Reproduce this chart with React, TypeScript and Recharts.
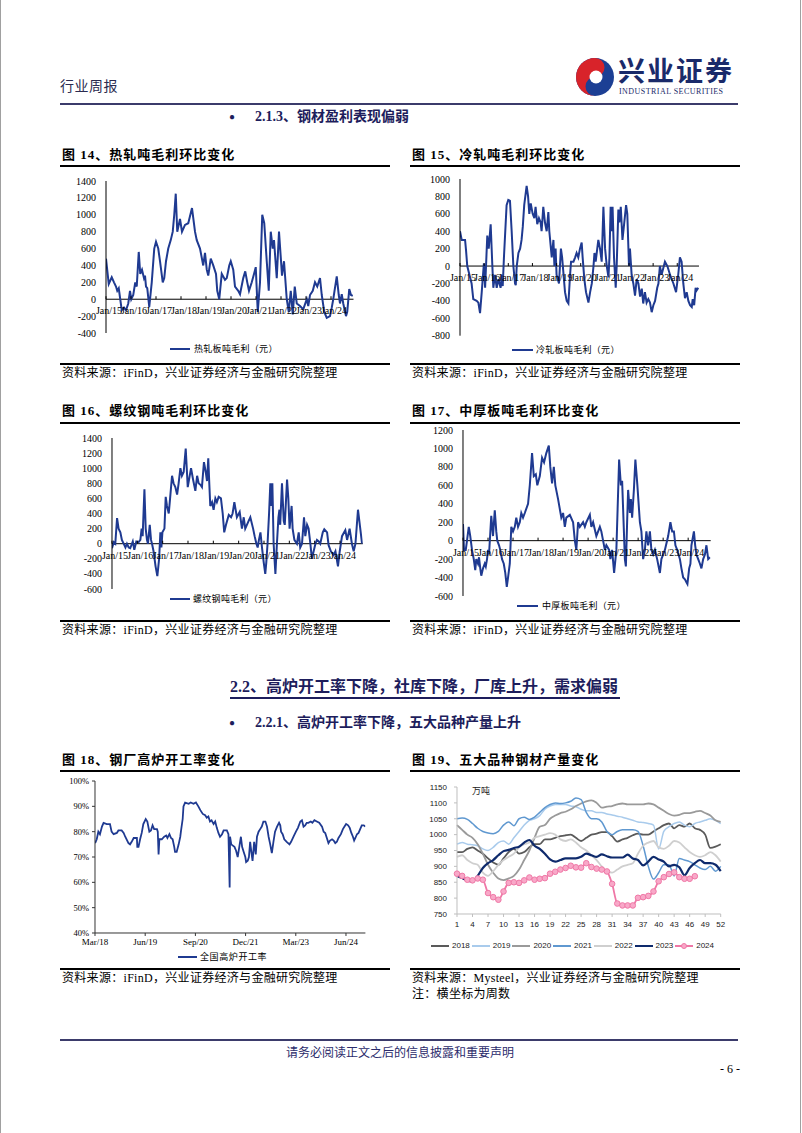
import React from "react";
import { LineChart, Line, XAxis, YAxis, ReferenceLine, ReferenceDot } from "recharts";

const NAVY = "#1f3a91";
const INK = "#1d1d5c";
const SERIF = '"Liberation Serif", "Times New Roman", "Noto Sans CJK SC", serif';
const SANS = '"Liberation Sans", Arial, "Noto Sans CJK SC", sans-serif';

// x axis of the margin charts: one tick per January
const janYears = [2015, 2016, 2017, 2018, 2019, 2020, 2021, 2022, 2023, 2024];
const janLabels = ["Jan/15", "Jan/16", "Jan/17", "Jan/18", "Jan/19", "Jan/20", "Jan/21", "Jan/22", "Jan/23", "Jan/24"];

// 图14 热轧板吨毛利（元）  [year, value]
const hotRolled: [number, number][] = [
  [2015.0, 480], [2015.11, 180], [2015.23, 260], [2015.32, 200], [2015.4, 150], [2015.45, 100], [2015.51, 130],
  [2015.63, -130], [2015.72, -100], [2015.8, -130], [2015.89, -50], [2015.96, 100], [2016.01, 0], [2016.09, 50],
  [2016.17, 200], [2016.23, 150], [2016.31, 560], [2016.37, 300], [2016.44, 350], [2016.52, 250], [2016.56, 280],
  [2016.6, 150], [2016.65, 130], [2016.73, -90], [2016.83, 200], [2016.93, 600], [2017.0, 680], [2017.09, 600],
  [2017.16, 450], [2017.27, 200], [2017.33, 250], [2017.4, 450], [2017.49, 600], [2017.59, 700], [2017.67, 800],
  [2017.73, 1000], [2017.79, 1250], [2017.85, 800], [2017.96, 950], [2018.04, 800], [2018.16, 880], [2018.29, 900],
  [2018.44, 1080], [2018.56, 800], [2018.63, 700], [2018.76, 600], [2018.89, 400], [2018.96, 550], [2019.03, 350],
  [2019.09, 280], [2019.19, 480], [2019.29, 400], [2019.4, 300], [2019.45, 100], [2019.53, 0], [2019.63, 300],
  [2019.76, 230], [2019.83, 250], [2019.93, 400], [2019.99, 450], [2020.09, 350], [2020.16, 150], [2020.29, 100],
  [2020.36, 60], [2020.49, 250], [2020.57, 330], [2020.65, 200], [2020.72, 100], [2020.83, 200], [2020.92, 300],
  [2020.99, 380], [2021.07, -150], [2021.16, 200], [2021.25, 1000], [2021.33, 900], [2021.43, 450], [2021.51, 100],
  [2021.59, 800], [2021.67, 600], [2021.72, 700], [2021.83, 250], [2021.92, 800], [2021.99, 500], [2022.04, 280],
  [2022.12, 450], [2022.23, 0], [2022.31, -150], [2022.39, 100], [2022.47, -180], [2022.55, 150], [2022.63, -50],
  [2022.76, -80], [2022.89, -120], [2023.03, 0], [2023.09, -80], [2023.16, 50], [2023.27, 100], [2023.36, 200],
  [2023.45, 150], [2023.56, 250], [2023.63, 50], [2023.73, -150], [2023.83, -220], [2023.96, -200], [2024.03, -100],
  [2024.09, 0], [2024.23, 270], [2024.31, 50], [2024.36, -50], [2024.43, 60], [2024.49, -50], [2024.6, -200],
  [2024.65, -150], [2024.73, 120], [2024.8, 50], [2024.87, 40],
];

// 图15 冷轧板吨毛利（元）
const coldRolled: [number, number][] = [
  [2015.0, 400], [2015.07, 300], [2015.21, 300], [2015.25, 180], [2015.3, 0], [2015.39, -100], [2015.48, -200],
  [2015.55, -380], [2015.69, -400], [2015.76, -420], [2015.83, -540], [2015.9, -300], [2015.94, -150], [2015.99, 30],
  [2016.04, -250], [2016.13, 350], [2016.19, 200], [2016.27, 480], [2016.34, 0], [2016.38, -250], [2016.45, -100],
  [2016.52, -250], [2016.59, -150], [2016.68, -250], [2016.74, -100], [2016.77, -230], [2016.82, 100], [2016.93, 700],
  [2017.0, 760], [2017.07, 750], [2017.14, 400], [2017.21, 0], [2017.28, -200], [2017.31, -220], [2017.35, 0],
  [2017.42, 150], [2017.49, 200], [2017.55, 300], [2017.6, 450], [2017.66, 700], [2017.76, 920], [2017.82, 800],
  [2017.87, 600], [2017.93, 720], [2018.01, 600], [2018.08, 550], [2018.13, 680], [2018.2, 480], [2018.27, 550],
  [2018.34, 500], [2018.38, 400], [2018.45, 680], [2018.52, 500], [2018.59, 400], [2018.66, 620], [2018.7, 400],
  [2018.8, 100], [2018.87, 300], [2018.91, 0], [2018.96, 200], [2019.0, -100], [2019.1, -200], [2019.18, 200],
  [2019.23, 100], [2019.35, -300], [2019.42, -400], [2019.49, -430], [2019.56, -100], [2019.6, 50], [2019.7, 50],
  [2019.77, 100], [2019.83, 150], [2019.9, 100], [2019.97, 200], [2020.04, 270], [2020.08, 100], [2020.15, -150],
  [2020.22, -300], [2020.32, -420], [2020.39, -300], [2020.46, -200], [2020.53, 0], [2020.57, 150], [2020.62, 50],
  [2020.73, 300], [2020.8, 200], [2020.87, 50], [2020.94, 680], [2021.01, 200], [2021.08, 0], [2021.15, -130],
  [2021.19, 100], [2021.24, 680], [2021.28, 400], [2021.32, 680], [2021.38, 100], [2021.45, -250], [2021.49, 0],
  [2021.56, 650], [2021.6, 500], [2021.66, 680], [2021.73, 300], [2021.88, 700], [2021.93, 600], [2022.0, 0],
  [2022.04, 200], [2022.11, -100], [2022.18, -200], [2022.25, -340], [2022.32, -150], [2022.39, -200], [2022.46, -350],
  [2022.53, -260], [2022.59, -430], [2022.66, -300], [2022.73, -420], [2022.8, -380], [2022.87, -420], [2022.94, -530],
  [2023.01, -450], [2023.08, -400], [2023.17, -250], [2023.22, -200], [2023.28, 0], [2023.35, -100], [2023.49, 50],
  [2023.59, 0], [2023.7, -100], [2023.84, -200], [2023.95, -300], [2024.04, -100], [2024.11, 100], [2024.18, 50],
  [2024.25, -200], [2024.32, -370], [2024.39, -300], [2024.46, -400], [2024.53, -450], [2024.6, -470], [2024.64, -380],
  [2024.7, -450], [2024.76, -250], [2024.8, -280], [2024.87, -250],
];

// 图16 螺纹钢吨毛利（元）
const rebar: [number, number][] = [
  [2015.0, -60], [2015.07, 20], [2015.13, 0], [2015.2, 340], [2015.26, 200], [2015.33, 150], [2015.39, 50],
  [2015.46, 0], [2015.53, -50], [2015.59, 0], [2015.66, -50], [2015.72, -60], [2015.82, 30], [2015.88, -80],
  [2015.96, 30], [2016.05, 20], [2016.12, 50], [2016.17, 200], [2016.21, 100], [2016.28, 720], [2016.33, 200],
  [2016.38, 50], [2016.42, 0], [2016.49, 250], [2016.54, 50], [2016.58, 0], [2016.64, -100], [2016.72, -300],
  [2016.79, -430], [2016.86, -200], [2016.91, 150], [2016.95, -50], [2016.99, 150], [2017.07, 200], [2017.12, 620],
  [2017.17, 500], [2017.24, 400], [2017.28, 550], [2017.37, 900], [2017.43, 800], [2017.5, 750], [2017.57, 650],
  [2017.63, 800], [2017.7, 1000], [2017.76, 900], [2017.83, 950], [2017.91, 1260], [2017.99, 750], [2018.12, 1000],
  [2018.2, 850], [2018.29, 700], [2018.36, 900], [2018.42, 800], [2018.49, 780], [2018.55, 750], [2018.63, 1080],
  [2018.7, 950], [2018.75, 830], [2018.8, 1130], [2018.84, 800], [2018.88, 500], [2018.95, 550], [2019.01, 450],
  [2019.08, 600], [2019.14, 550], [2019.21, 620], [2019.3, 600], [2019.37, 400], [2019.43, 150], [2019.5, 250],
  [2019.61, 380], [2019.7, 350], [2019.76, 400], [2019.83, 550], [2019.93, 350], [2020.04, 420], [2020.13, 200],
  [2020.2, 350], [2020.26, 200], [2020.39, 300], [2020.46, 350], [2020.57, 200], [2020.63, 100], [2020.7, 0],
  [2020.75, -50], [2020.8, 50], [2020.86, 150], [2020.92, -50], [2020.99, -250], [2021.05, -400], [2021.09, -250],
  [2021.14, 0], [2021.2, 400], [2021.25, 800], [2021.29, 500], [2021.33, 800], [2021.38, 0], [2021.45, -400],
  [2021.51, 0], [2021.57, 350], [2021.61, 450], [2021.64, 250], [2021.71, 800], [2021.78, 300], [2021.82, 250],
  [2021.91, 850], [2021.96, 600], [2022.01, 200], [2022.09, 500], [2022.13, 200], [2022.2, 50], [2022.3, 0],
  [2022.37, 150], [2022.43, -50], [2022.5, 0], [2022.58, 350], [2022.63, 100], [2022.7, 250], [2022.76, 200],
  [2022.83, 0], [2022.89, -200], [2022.96, -100], [2023.03, 0], [2023.09, 50], [2023.16, 30], [2023.22, 0],
  [2023.32, 150], [2023.38, 190], [2023.49, 150], [2023.55, -20], [2023.64, -100], [2023.75, -150], [2023.82, -100],
  [2023.92, -300], [2023.99, -100], [2024.08, 100], [2024.21, 180], [2024.28, 50], [2024.38, 200], [2024.47, 0],
  [2024.54, -100], [2024.61, 0], [2024.71, 450], [2024.8, 200], [2024.87, 0],
];

// 图17 中厚板吨毛利（元）
const plate: [number, number][] = [
  [2015.0, 180], [2015.04, -100], [2015.11, -100], [2015.16, 0], [2015.23, 150], [2015.29, 50], [2015.36, -100],
  [2015.43, -200], [2015.49, -320], [2015.53, -200], [2015.6, -250], [2015.64, -180], [2015.69, -300], [2015.73, -380],
  [2015.8, -300], [2015.87, -250], [2015.91, -280], [2015.96, -200], [2016.0, -100], [2016.04, -150], [2016.13, 270],
  [2016.2, 50], [2016.27, 330], [2016.33, 100], [2016.37, 0], [2016.44, -50], [2016.49, -100], [2016.56, -200],
  [2016.63, -250], [2016.69, -350], [2016.75, -500], [2016.8, -400], [2016.87, -250], [2016.93, 150], [2017.0, 100],
  [2017.07, 150], [2017.13, 250], [2017.2, 150], [2017.27, 200], [2017.33, 300], [2017.4, 250], [2017.47, 300],
  [2017.6, 400], [2017.67, 600], [2017.76, 950], [2017.83, 700], [2017.91, 720], [2017.97, 600], [2018.07, 700],
  [2018.16, 900], [2018.24, 850], [2018.33, 950], [2018.43, 1030], [2018.49, 800], [2018.56, 620], [2018.63, 800],
  [2018.69, 600], [2018.8, 450], [2018.93, 250], [2019.0, 300], [2019.07, 150], [2019.13, 250], [2019.27, 280],
  [2019.4, 200], [2019.47, 0], [2019.53, -100], [2019.6, 200], [2019.67, 150], [2019.8, 200], [2019.87, 150],
  [2019.93, 200], [2020.07, 280], [2020.13, 150], [2020.2, 200], [2020.33, 50], [2020.47, 150], [2020.53, 100],
  [2020.6, 0], [2020.67, -100], [2020.73, -50], [2020.84, -100], [2020.89, -200], [2020.96, -100], [2021.04, -350],
  [2021.13, -100], [2021.24, 880], [2021.31, 600], [2021.36, 650], [2021.47, -200], [2021.51, -280], [2021.56, 200],
  [2021.6, 550], [2021.67, 300], [2021.71, 450], [2021.76, 250], [2021.83, 550], [2021.89, 880], [2021.97, 600],
  [2022.07, 200], [2022.13, 100], [2022.2, -200], [2022.27, -100], [2022.33, 100], [2022.4, -50], [2022.47, 100],
  [2022.53, -100], [2022.6, -150], [2022.67, -100], [2022.76, -200], [2022.87, -350], [2022.93, -200], [2023.07, -100],
  [2023.2, 50], [2023.29, 200], [2023.36, 100], [2023.43, 100], [2023.49, -50], [2023.56, -100], [2023.67, -200],
  [2023.73, -300], [2023.8, -400], [2023.87, -420], [2023.93, -450], [2023.97, -470], [2024.04, -300], [2024.09, -250],
  [2024.13, -50], [2024.23, 100], [2024.28, -50], [2024.33, -150], [2024.4, -200], [2024.47, -250], [2024.53, -300],
  [2024.6, -200], [2024.67, -150], [2024.73, -50], [2024.8, -200], [2024.87, -180],
];

// 图18 全国高炉开工率（%）
const blastFurnace: [number, number][] = [
  [2018.17, 75.5], [2018.21, 77], [2018.25, 80], [2018.29, 79], [2018.34, 82], [2018.38, 83.5], [2018.46, 83],
  [2018.54, 83], [2018.58, 80], [2018.63, 79], [2018.71, 79.5], [2018.75, 80.5], [2018.83, 80.5], [2018.88, 79.5],
  [2018.92, 78], [2019.0, 75.5], [2019.04, 75], [2019.08, 76], [2019.13, 77.5], [2019.21, 77.5], [2019.22, 74],
  [2019.25, 74], [2019.29, 77], [2019.33, 79.5], [2019.37, 83], [2019.43, 85], [2019.47, 84], [2019.52, 80],
  [2019.56, 80.5], [2019.6, 82.5], [2019.64, 81], [2019.71, 81], [2019.73, 80], [2019.75, 71], [2019.77, 77],
  [2019.83, 77], [2019.89, 78], [2019.94, 78.5], [2019.97, 77.5], [2020.02, 79], [2020.06, 77.5], [2020.1, 77],
  [2020.14, 74], [2020.16, 72], [2020.2, 72], [2020.25, 75], [2020.29, 78], [2020.31, 80.5], [2020.35, 85],
  [2020.37, 90], [2020.41, 91.5], [2020.5, 91], [2020.55, 91.5], [2020.62, 91], [2020.68, 91.5], [2020.74, 90],
  [2020.79, 88.5], [2020.85, 87], [2020.91, 86.5], [2020.95, 85.5], [2020.99, 86], [2021.03, 84], [2021.07, 84.5],
  [2021.12, 83], [2021.16, 84], [2021.2, 81.5], [2021.24, 79.5], [2021.28, 78], [2021.33, 79], [2021.37, 80.5],
  [2021.45, 80.5], [2021.49, 79], [2021.52, 58], [2021.53, 78], [2021.56, 75], [2021.6, 74.5], [2021.64, 74],
  [2021.68, 72.5], [2021.72, 70], [2021.76, 74], [2021.8, 78], [2021.83, 74], [2021.87, 72], [2021.91, 70],
  [2021.93, 68], [2021.97, 68.5], [2022.0, 70], [2022.03, 76], [2022.06, 72], [2022.09, 68.5], [2022.13, 76],
  [2022.17, 71], [2022.2, 78], [2022.24, 80], [2022.28, 81], [2022.32, 82], [2022.36, 84], [2022.41, 84],
  [2022.45, 82], [2022.49, 78], [2022.53, 75], [2022.57, 71.5], [2022.61, 76], [2022.65, 80], [2022.7, 82],
  [2022.75, 83.5], [2022.78, 82.5], [2022.8, 80], [2022.84, 79], [2022.88, 77], [2022.94, 76], [2023.01, 75],
  [2023.05, 76], [2023.11, 78], [2023.17, 80], [2023.22, 81.5], [2023.28, 84], [2023.32, 84.5], [2023.36, 82],
  [2023.4, 82.5], [2023.44, 83.5], [2023.48, 83.5], [2023.54, 84], [2023.58, 83.5], [2023.63, 84.5], [2023.69, 84],
  [2023.75, 83.5], [2023.82, 82], [2023.86, 80], [2023.9, 79.5], [2023.94, 77.5], [2023.98, 75.5], [2024.02, 76.5],
  [2024.07, 77], [2024.11, 76.5], [2024.15, 75.5], [2024.19, 76], [2024.23, 77.5], [2024.29, 79], [2024.34, 81],
  [2024.38, 82], [2024.42, 83], [2024.47, 82.5], [2024.51, 81.5], [2024.55, 79.5], [2024.59, 78], [2024.62, 76.5],
  [2024.65, 77.5], [2024.69, 79], [2024.73, 79.5], [2024.77, 81], [2024.81, 82.5], [2024.86, 82.5], [2024.9, 82],
];
const furnaceTicks = [2018.1667, 2019.4167, 2020.6667, 2021.9167, 2023.1667, 2024.4167];
const furnaceTickLabels = ["Mar/18", "Jun/19", "Sep/20", "Dec/21", "Mar/23", "Jun/24"];

// 图19 五大品种钢材产量（万吨），按周
const weeks = Array.from({ length: 52 }, (_, i) => i + 1);
const weekTicks = [1, 4, 7, 10, 13, 16, 19, 22, 25, 28, 31, 34, 37, 40, 43, 46, 49, 52];
const out2018 = [945, 945, 955, 960, 950, 940, 925, 912, 905, 925, 945, 955, 940, 945, 960, 970, 970, 985, 985, 990, 995, 998, 1000, 990, 980, 990, 1000, 1003, 1008, 1008, 995, 978, 985, 990, 998, 1003, 1000, 1000, 1010, 1020, 1030, 1035, 1020, 1030, 1025, 1035, 1020, 1015, 1000, 958, 962, 970];
const out2019 = [970, 975, 970, 968, 965, 955, 950, 960, 975, 980, 970, 990, 1010, 1030, 1045, 1050, 1060, 1080, 1090, 1095, 1095, 1095, 1090, 1088, 1080, 1075, 1075, 1070, 1070, 1065, 1062, 1058, 1055, 1050, 1045, 1040, 1038, 1035, 1030, 955, 1010, 1025, 1035, 1040, 1030, 1025, 1035, 1040, 1045, 1050, 1045, 1035];
const out2020 = [1030, 1015, 1000, 990, 970, 940, 905, 880, 862, 857, 862, 870, 890, 920, 950, 990, 1025, 1030, 1050, 1060, 1068, 1072, 1080, 1090, 1098, 1105, 1108, 1100, 1085, 1088, 1090, 1095, 1098, 1095, 1095, 1095, 1095, 1098, 1095, 1085, 1075, 1065, 1060, 1062, 1068, 1068, 1072, 1075, 1068, 1060, 1045, 1040];
const out2021 = [1050, 1052, 1048, 1035, 1020, 1010, 1005, 1003, 1010, 1030, 1040, 1028, 1050, 1055, 1048, 1055, 1070, 1085, 1095, 1100, 1098, 1100, 1105, 1115, 1110, 1070, 1050, 1050, 1040, 1010, 1000, 1010, 1015, 1015, 1015, 1010, 965, 900, 860, 880, 905, 905, 870, 925, 920, 915, 905, 895, 890, 900, 885, 900];
const out2022 = [930, 935, 920, 910, 905, 880, 870, 885, 905, 920, 930, 940, 960, 970, 975, 990, 995, 1000, 1005, 1000, 985, 980, 985, 975, 960, 950, 935, 920, 900, 885, 880, 890, 900, 905, 910, 940, 965, 975, 980, 960, 955, 965, 980, 975, 960, 945, 935, 930, 935, 945, 935, 915];
const out2023 = [870, 863, 855, 853, 870, 895, 910, 920, 935, 948, 952, 958, 962, 975, 983, 965, 955, 940, 922, 915, 920, 925, 925, 925, 930, 940, 935, 930, 938, 932, 928, 928, 928, 937, 925, 920, 903, 915, 930, 922, 915, 900, 905, 897, 872, 895, 910, 920, 910, 910, 905, 885];
const out2024 = [877, 870, 858, 856, 862, 858, 816, 803, 795, 821, 848, 850, 848, 856, 865, 858, 861, 863, 877, 883, 890, 895, 902, 897, 896, 910, 898, 893, 890, 884, 845, 783, 777, 777, 777, 801, 803, 807, 821, 853, 866, 876, 881, 866, 861, 861, 869];

const outputSeries = [
  { key: "y2018", name: "2018", values: out2018, color: "#5a5a5a", width: 1.8 },
  { key: "y2019", name: "2019", values: out2019, color: "#a9cbec", width: 1.5 },
  { key: "y2020", name: "2020", values: out2020, color: "#9a9a9a", width: 1.8 },
  { key: "y2021", name: "2021", values: out2021, color: "#5f98d0", width: 1.5 },
  { key: "y2022", name: "2022", values: out2022, color: "#cfcfcf", width: 1.8 },
  { key: "y2023", name: "2023", values: out2023, color: "#0e2a6c", width: 2.2 },
  { key: "y2024", name: "2024", values: out2024, color: "#ef77a6", width: 1.8 },
];

const SOURCE = "资料来源：iFinD，兴业证券经济与金融研究院整理";

function Txt({ x, y, size, children, bold = false, color = "#000", family = SERIF, ls = 0, center = false }: any) {
  return (
    <div
      style={{
        position: "absolute", left: x, top: y, fontSize: size, fontWeight: bold ? 700 : 400, color,
        fontFamily: family, letterSpacing: ls, whiteSpace: "nowrap", lineHeight: 1,
        transform: center ? "translate(-50%, -50%)" : "translateY(-50%)",
      }}
    >
      {children}
    </div>
  );
}

function HLine({ x1, x2, y, w = 1, color = "#000" }: any) {
  return <div style={{ position: "absolute", left: x1, top: y - w / 2, width: x2 - x1, height: w, background: color }} />;
}

function LegendKey({ x1, x2, tx, y, label, size = 9, ls = 0.3 }: any) {
  return (
    <>
      <HLine x1={x1} x2={x2} y={y} w={2} color={NAVY} />
      <Txt x={tx} y={y} size={size} ls={ls}>{label}</Txt>
    </>
  );
}

function JanTick(props: any) {
  const { cx, cy, label } = props;
  return (
    <g>
      <line x1={cx} x2={cx} y1={cy - 3} y2={cy} stroke="#000" strokeWidth={1} />
      <text x={cx + 3} y={cy + 15} textAnchor="middle" fontSize={10} fontFamily={SERIF} fill="#000">{label}</text>
    </g>
  );
}

function ProfitChart({ data, plot, ticks }: { data: [number, number][]; plot: { x: number; y: number; w: number; h: number }; ticks: number[] }) {
  const padL = 48, padT = 10, padR = 10, padB = 26;
  const rows = data.map(([t, v]) => ({ t, v }));
  return (
    <div style={{ position: "absolute", left: plot.x - padL, top: plot.y - padT }}>
      <LineChart width={padL + plot.w + padR} height={padT + plot.h + padB} data={rows} margin={{ top: padT, right: padR, bottom: padB, left: 0 }}>
        <XAxis dataKey="t" type="number" domain={[2015, 2024.9]} hide allowDataOverflow />
        <YAxis
          type="number" width={padL} domain={[ticks[0], ticks[ticks.length - 1]]} ticks={ticks} interval={0}
          tickLine={false} tickSize={0} tickMargin={10} axisLine={{ stroke: "#000" }}
          tick={{ fontSize: 10, fill: "#000", fontFamily: SERIF }} allowDataOverflow
        />
        <ReferenceLine y={0} stroke="#000" strokeWidth={1} />
        {janYears.map((yr, i) => (
          <ReferenceDot key={yr} x={yr} y={0} r={3} shape={(p: any) => <JanTick cx={p.cx} cy={p.cy} label={janLabels[i]} />} />
        ))}
        <Line type="linear" dataKey="v" stroke={NAVY} strokeWidth={2} dot={false} isAnimationActive={false} />
      </LineChart>
    </div>
  );
}

function FurnaceChart() {
  const plot = { x: 95, y: 780.7, w: 270.4, h: 152 };
  const padL = 40, padT = 8, padR = 8, padB = 20;
  const rows = blastFurnace.map(([t, v]) => ({ t, v }));
  return (
    <div style={{ position: "absolute", left: plot.x - padL, top: plot.y - padT }}>
      <LineChart width={padL + plot.w + padR} height={padT + plot.h + padB} data={rows} margin={{ top: padT, right: padR, bottom: 0, left: 0 }}>
        <XAxis
          dataKey="t" type="number" domain={[2018.1667, 2024.9]} ticks={furnaceTicks} interval={0} height={padB}
          tickFormatter={(_v: number, i: number) => furnaceTickLabels[i]} tickSize={3} tickMargin={3}
          axisLine={{ stroke: "#333" }} tickLine={{ stroke: "#333" }}
          tick={{ fontSize: 9, fill: "#000", fontFamily: SERIF }} allowDataOverflow
        />
        <YAxis
          type="number" width={padL} domain={[40, 100]} ticks={[40, 50, 60, 70, 80, 90, 100]} interval={0}
          tickFormatter={(v: number) => `${v}%`} tickSize={3} tickMargin={3}
          axisLine={{ stroke: "#333" }} tickLine={{ stroke: "#333" }}
          tick={{ fontSize: 8.5, fill: "#000", fontFamily: SERIF }}
        />
        <Line type="linear" dataKey="v" stroke={NAVY} strokeWidth={1.8} dot={false} isAnimationActive={false} />
      </LineChart>
    </div>
  );
}

function OutputChart() {
  const plot = { x: 457.3, y: 787.3, w: 263.7, h: 127 };
  const padL = 44, padT = 8, padR = 10, padB = 20;
  const rows = weeks.map((w, i) => {
    const r: any = { w };
    outputSeries.forEach((s) => { r[s.key] = s.values[i]; });
    return r;
  });
  return (
    <div style={{ position: "absolute", left: plot.x - padL, top: plot.y - padT }}>
      <LineChart width={padL + plot.w + padR} height={padT + plot.h + padB} data={rows} margin={{ top: padT, right: padR, bottom: 0, left: 0 }}>
        <XAxis
          dataKey="w" type="number" domain={[1, 52]} ticks={weekTicks} interval={0} height={padB}
          tickSize={3} tickMargin={4} axisLine={{ stroke: "#bfbfbf" }} tickLine={{ stroke: "#bfbfbf" }}
          tick={{ fontSize: 8, fill: "#222", fontFamily: SANS }}
        />
        <YAxis
          type="number" width={padL} domain={[750, 1150]} ticks={[750, 800, 850, 900, 950, 1000, 1050, 1100, 1150]} interval={0}
          tickSize={3} tickMargin={7} axisLine={{ stroke: "#bfbfbf" }} tickLine={{ stroke: "#bfbfbf" }}
          tick={{ fontSize: 8, fill: "#222", fontFamily: SANS }}
        />
        {outputSeries.map((s) => (
          <Line
            key={s.key} type="monotone" dataKey={s.key} stroke={s.color} strokeWidth={s.width} isAnimationActive={false}
            dot={s.name === "2024" ? { r: 2.8, fill: "#f8a8c8", stroke: s.color, strokeWidth: 1 } : false}
          />
        ))}
      </LineChart>
    </div>
  );
}

function OutputLegend() {
  return (
    <>
      {outputSeries.map((s, i) => {
        const x = 431 + i * 40.7;
        return (
          <React.Fragment key={s.key}>
            <HLine x1={x} x2={x + 18} y={946} w={s.width + 0.3} color={s.color} />
            {s.name === "2024" && (
              <div style={{ position: "absolute", left: x + 6, top: 946 - 3, width: 6, height: 6, borderRadius: 3, background: "#f8a8c8", border: `1px solid ${s.color}`, boxSizing: "border-box" }} />
            )}
            <Txt x={x + 21} y={946} size={8} family={SANS} color="#222">{s.name}</Txt>
          </React.Fragment>
        );
      })}
    </>
  );
}

function Logo() {
  return (
    <svg width={40} height={42} style={{ position: "absolute", left: 575, top: 56 }}>
      <circle cx={20} cy={21} r={19} fill="#1c3f94" />
      <path d="M20 2 A19 19 0 0 0 20 40 A9.5 9.5 0 0 1 20 21 A9.5 9.5 0 0 0 20 2 Z" fill="#d8232a" />
      <circle cx={21} cy={21} r={6.5} fill="#fff" />
    </svg>
  );
}

export default function App() {
  const tick1400 = [-400, -200, 0, 200, 400, 600, 800, 1000, 1200, 1400];
  const tick1000 = [-800, -600, -400, -200, 0, 200, 400, 600, 800, 1000];
  const tick1400b = [-600, -400, -200, 0, 200, 400, 600, 800, 1000, 1200, 1400];
  const tick1200 = [-600, -400, -200, 0, 200, 400, 600, 800, 1000, 1200];
  return (
    <div style={{ position: "absolute", left: 0, top: 0, width: 802, height: 1133, background: "#fff", overflow: "hidden", fontFamily: SERIF }}>
      <div style={{ position: "absolute", left: 0, top: 0, width: 1, height: 1133, background: "#a0a0a0" }} />
      <div style={{ position: "absolute", left: 800, top: 0, width: 1, height: 1133, background: "#a0a0a0" }} />

      {/* header */}
      <Txt x={60} y={87} size={14} color="#2b2b4f" ls={0.5}>行业周报</Txt>
      <Logo />
      <Txt x={618} y={72} size={27} bold color="#1a2a6a" ls={2}>兴业证券</Txt>
      <Txt x={619} y={92} size={8} color="#1a2a6a" ls={0.45}>INDUSTRIAL SECURITIES</Txt>
      <HLine x1={60} x2={738} y={104} w={2} color="#3b3b6b" />
      <Txt x={229} y={117} size={10} color={INK}>●</Txt>
      <Txt x={255} y={117} size={14} bold color={INK}>2.1.3、钢材盈利表现偏弱</Txt>

      {/* 图14 / 图15 */}
      <Txt x={62} y={154} size={13} bold ls={1}>图 14、热轧吨毛利环比变化</Txt>
      <Txt x={412} y={154} size={13} bold ls={1}>图 15、冷轧吨毛利环比变化</Txt>
      <HLine x1={60} x2={390} y={166} w={1.5} />
      <HLine x1={410} x2={740} y={166} w={1.5} />
      <ProfitChart data={hotRolled} plot={{ x: 106, y: 180.7, w: 247.5, h: 152 }} ticks={tick1400} />
      <ProfitChart data={coldRolled} plot={{ x: 460, y: 179.3, w: 239, h: 156.7 }} ticks={tick1000} />
      <LegendKey x1={170} x2={190} tx={194} y={349} label="热轧板吨毛利（元）" />
      <LegendKey x1={512} x2={533} tx={536} y={350} label="冷轧板吨毛利（元）" />
      <HLine x1={60} x2={390} y={364} w={1.5} />
      <HLine x1={410} x2={740} y={364} w={1.5} />
      <Txt x={62} y={372.5} size={12} ls={0.3}>{SOURCE}</Txt>
      <Txt x={412} y={372.5} size={12} ls={0.3}>{SOURCE}</Txt>

      {/* 图16 / 图17 */}
      <Txt x={62} y={410} size={13} bold ls={1}>图 16、螺纹钢吨毛利环比变化</Txt>
      <Txt x={412} y={410} size={13} bold ls={1}>图 17、中厚板吨毛利环比变化</Txt>
      <HLine x1={60} x2={390} y={423} w={1.5} />
      <HLine x1={410} x2={740} y={423} w={1.5} />
      <ProfitChart data={rebar} plot={{ x: 111.7, y: 438.3, w: 250.8, h: 151 }} ticks={tick1400b} />
      <ProfitChart data={plate} plot={{ x: 463.3, y: 430, w: 247.7, h: 166 }} ticks={tick1200} />
      <LegendKey x1={170} x2={190} tx={193} y={599} label="螺纹钢吨毛利（元）" />
      <LegendKey x1={517} x2={538} tx={542} y={605.5} label="中厚板吨毛利（元）" />
      <HLine x1={60} x2={390} y={621} w={1.5} />
      <HLine x1={410} x2={740} y={621} w={1.5} />
      <Txt x={62} y={629.5} size={12} ls={0.3}>{SOURCE}</Txt>
      <Txt x={412} y={629.5} size={12} ls={0.3}>{SOURCE}</Txt>

      {/* 2.2 */}
      <Txt x={230} y={687} size={16} bold color={INK}>2.2、高炉开工率下降，社库下降，厂库上升，需求偏弱</Txt>
      <HLine x1={230} x2={620} y={698} w={1.5} color={INK} />
      <Txt x={229} y={723} size={10} color={INK}>●</Txt>
      <Txt x={255} y={723} size={14} bold color={INK}>2.2.1、高炉开工率下降，五大品种产量上升</Txt>

      {/* 图18 / 图19 */}
      <Txt x={62} y={759} size={13} bold ls={1}>图 18、钢厂高炉开工率变化</Txt>
      <Txt x={412} y={759} size={13} bold ls={1}>图 19、五大品种钢材产量变化</Txt>
      <HLine x1={60} x2={390} y={771} w={1.5} />
      <HLine x1={410} x2={740} y={771} w={1.5} />
      <FurnaceChart />
      <LegendKey x1={178} x2={197} tx={200} y={957} label="全国高炉开工率" ls={0.6} />
      <OutputChart />
      <Txt x={472} y={791} size={9} color="#222">万吨</Txt>
      <OutputLegend />
      <HLine x1={60} x2={390} y={969} w={1.5} />
      <HLine x1={410} x2={740} y={969} w={1.5} />
      <Txt x={62} y={977.5} size={12} ls={0.3}>{SOURCE}</Txt>
      <Txt x={412} y={977.5} size={12} ls={0.3}>资料来源：Mysteel，兴业证券经济与金融研究院整理</Txt>
      <Txt x={412} y={993.5} size={12} ls={0.3}>注：横坐标为周数</Txt>

      {/* footer */}
      <HLine x1={60} x2={738} y={1040} w={2} color="#3b3b6b" />
      <Txt x={400} y={1053} size={12} color="#2b2b6b" center>请务必阅读正文之后的信息披露和重要声明</Txt>
      <Txt x={720} y={1069} size={12}>- 6 -</Txt>
    </div>
  );
}
